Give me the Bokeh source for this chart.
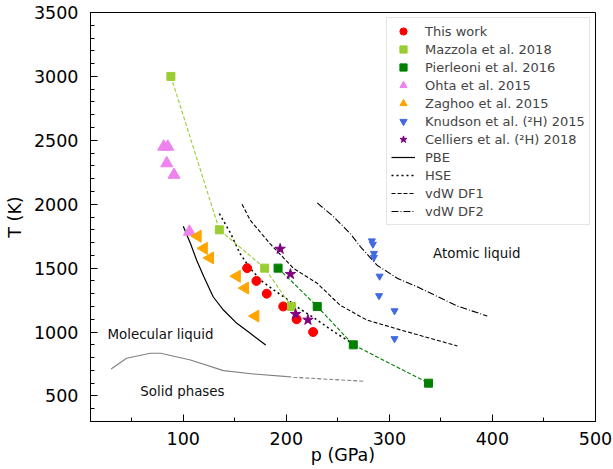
import math
from bokeh.plotting import figure
from bokeh.models import (Range1d, SingleIntervalTicker, Legend, LegendItem, Label)
from bokeh.embed import file_html
from bokeh.resources import INLINE

# ---- data ----
this_p = [162, 171, 181, 197, 210, 226]
this_T = [1500, 1400, 1300, 1200, 1100, 1000]
maz_p = [88, 135, 179, 205]
maz_T = [3000, 1800, 1500, 1200]
pier_p = [192, 230, 265, 338]
pier_T = [1500, 1200, 900, 600]
ohta_p = [81, 85, 84, 91, 106]
ohta_T = [2450, 2450, 2320, 2230, 1785]
zag_p = [114, 120, 126, 152, 160, 170]
zag_T = [1750, 1655, 1580, 1437, 1344, 1125]
knud_p = [283, 284, 285, 285, 290.5, 290, 305, 305]
knud_T = [1713, 1687, 1615, 1584, 1437, 1284, 1166, 948]
cel_p = [194, 204, 209, 221]
cel_T = [1650, 1453, 1140, 1095]

pbe_p = [100, 107, 113, 120, 129, 139, 152, 165, 180]
pbe_T = [1828, 1693, 1562, 1432, 1276, 1172, 1068, 990, 898]
hse_p = [135, 146, 155, 165, 175, 188, 202, 210, 230, 246, 265]
hse_T = [1927, 1771, 1615, 1497, 1406, 1328, 1250, 1198, 1094, 1003, 906]
df1_p = [157, 165, 184, 207, 230, 252, 278, 311, 366]
df1_T = [2000, 1875, 1693, 1498, 1381, 1211, 1094, 1016, 891]
df2_p = [230, 246, 262, 272, 288, 308, 327, 366, 395]
df2_T = [2010, 1901, 1771, 1667, 1523, 1419, 1354, 1203, 1125]
solid_p = [30, 45, 68, 78, 107, 139, 168, 201]
solid_T = [711, 795, 834, 834, 781, 698, 672, 651]
solid_ext_p = [201, 207, 275]
solid_ext_T = [651, 646, 615]

region_labels = ["Molecular liquid", "Solid phases", "Atomic liquid"]
region_p = [26.5, 58.3, 342.4]
region_T = [984, 534, 1615]

FONT = "DejaVu Sans"

p = figure(width=613, height=469, output_backend="svg", toolbar_location=None,
           x_range=Range1d(10, 500), y_range=Range1d(300, 3500),
           min_border_left=90, min_border_right=18, min_border_top=12,
           min_border_bottom=48)
p.xgrid.visible = False
p.ygrid.visible = False
p.outline_line_color = "black"
p.outline_line_width = 1
p.background_fill_color = "white"

p.xaxis.ticker = SingleIntervalTicker(interval=100, num_minor_ticks=2)
p.yaxis.ticker = SingleIntervalTicker(interval=500, num_minor_ticks=5)
for ax in (p.xaxis, p.yaxis):
    ax.major_tick_in = 7
    ax.major_tick_out = 0
    ax.minor_tick_in = 4
    ax.minor_tick_out = 0
    ax.major_label_text_font = FONT
    ax.major_label_text_font_size = "17.5px"
    ax.major_label_text_color = "black"
    ax.axis_line_color = "black"
    ax.major_tick_line_color = "black"
    ax.minor_tick_line_color = "black"
    ax.axis_label_text_font = FONT
    ax.axis_label_text_font_size = "17.5px"
    ax.axis_label_text_font_style = "normal"
    ax.axis_label_text_color = "black"
p.xaxis.axis_label = "p (GPa)"
p.yaxis.axis_label = "T (K)"
p.xaxis.major_label_standoff = 10
p.xaxis.axis_label_standoff = -3
p.yaxis.major_label_standoff = 12
p.yaxis.axis_label_standoff = 6

# ---- lines ----
r_pbe = p.line(pbe_p, pbe_T, line_color="black", line_width=1.2)
r_hse = p.line(hse_p, hse_T, line_color="black", line_width=1.5, line_dash="2 3")
r_df1 = p.line(df1_p, df1_T, line_color="black", line_width=1.1, line_dash="4 2")
r_df2 = p.line(df2_p, df2_T, line_color="black", line_width=1.1, line_dash="7 2 1 2")
p.line(solid_p, solid_T, line_color="#808080", line_width=1.1)
p.line(solid_ext_p, solid_ext_T, line_color="#808080", line_width=1.1, line_dash="4 2")
p.line(maz_p, maz_T, line_color="yellowgreen", line_width=1.1, line_dash="4 2")
p.line(pier_p, pier_T, line_color="green", line_width=1.1, line_dash="4 2")

# ---- markers ----
r_this = p.scatter(this_p, this_T, marker="circle", size=9, fill_color="red", line_color="red")
r_maz = p.scatter(maz_p, maz_T, marker="square", size=8, fill_color="yellowgreen", line_color="yellowgreen")
r_pier = p.scatter(pier_p, pier_T, marker="square", size=8, fill_color="green", line_color="green")
r_ohta = p.scatter(ohta_p, ohta_T, marker="triangle", size=12, fill_color="violet", line_color="violet")
r_zag = p.scatter(zag_p, zag_T, marker="triangle", size=12, angle=math.pi / 2,
                  fill_color="orange", line_color="orange")
r_knud = p.scatter(knud_p, knud_T, marker="inverted_triangle", size=7, fill_color="royalblue", line_color="royalblue")
r_cel = p.scatter(cel_p, cel_T, marker="star", size=11, fill_color="purple", line_color="purple")

# ---- region labels ----
for txt, xx, yy in zip(region_labels, region_p, region_T):
    p.add_layout(Label(x=xx, y=yy, text=txt, text_font=FONT, text_font_size="13.4px",
                       text_baseline="middle", text_align="left", text_color="#111111"))

# ---- legend ----
items = [
    LegendItem(label="This work", renderers=[r_this]),
    LegendItem(label="Mazzola et al. 2018", renderers=[r_maz]),
    LegendItem(label="Pierleoni et al. 2016", renderers=[r_pier]),
    LegendItem(label="Ohta et al. 2015", renderers=[r_ohta]),
    LegendItem(label="Zaghoo et al. 2015", renderers=[r_zag]),
    LegendItem(label="Knudson et al. (\u00b2H) 2015", renderers=[r_knud]),
    LegendItem(label="Celliers et al. (\u00b2H) 2018", renderers=[r_cel]),
    LegendItem(label="PBE", renderers=[r_pbe]),
    LegendItem(label="HSE", renderers=[r_hse]),
    LegendItem(label="vdW DF1", renderers=[r_df1]),
    LegendItem(label="vdW DF2", renderers=[r_df2]),
]
legend = Legend(items=items, location=(296, 196), label_text_font=FONT,
                label_text_font_size="13px", glyph_height=18, label_height=18,
                glyph_width=24, spacing=0, padding=4, label_standoff=10, margin=0,
                border_line_color="#cccccc", border_line_width=1,
                background_fill_color="white", background_fill_alpha=0.8)
p.add_layout(legend)

open("out.html", "w").write(file_html(p, INLINE))
